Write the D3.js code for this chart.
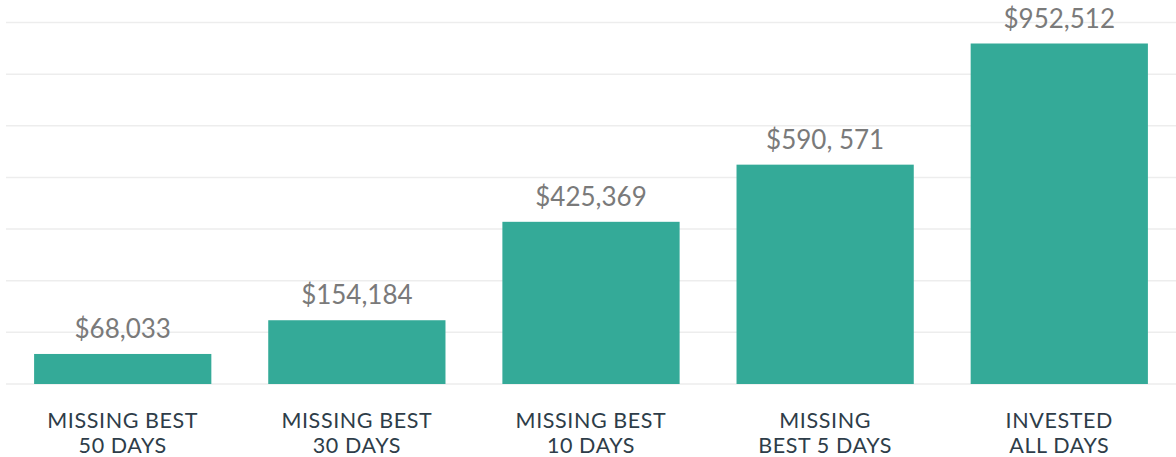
<!DOCTYPE html>
<html>
<head>
<meta charset="utf-8">
<script src="https://cdn.jsdelivr.net/npm/d3@7"></script>
<style>
    body { margin: 0; background: #fff; }
    .value-label { font-family: Lato, "Open Sans", sans-serif; font-size: 26px; fill: #7a7a7a; }
    .cat-label { font-family: Lato, "Open Sans", sans-serif; font-size: 21.5px; letter-spacing: 0.6px; fill: #2e3d49; }
</style>
</head>
<body>
<div id="chart-div"></div>
<script>
const categories = ["50", "30", "10", "5", "all"];
const labelLines = [
    ["MISSING BEST", "50 DAYS"],
    ["MISSING BEST", "30 DAYS"],
    ["MISSING BEST", "10 DAYS"],
    ["MISSING", "BEST 5 DAYS"],
    ["INVESTED", "ALL DAYS"]
];
const values = [68033, 154184, 425369, 590571, 952512];
const valueLabels = ["$68,033", "$154,184", "$425,369", "$590, 571", "$952,512"];
const gridCount = 8;

const width = 1176;
const height = 457;
const baseline = 384;
const teal = '#34aa98';

const svg = d3.select("#chart-div")
    .append("svg")
    .attr("width", width)
    .attr("height", height);

// background grid, evenly spaced
const gridScale = d3.scaleLinear()
    .domain([0, gridCount - 1])
    .range([baseline, 22.5]);

svg.selectAll("line.grid").data(d3.range(gridCount)).enter().append("line")
    .attr("class", "grid")
    .attr("x1", 6)
    .attr("x2", width)
    .attr("y1", d => gridScale(d))
    .attr("y2", d => gridScale(d))
    .style("stroke", "#ededed")
    .style("stroke-width", 1.5);

const xScale = d3.scaleBand()
    .domain(categories)
    .range([6, width])
    .paddingInner(0.243)
    .paddingOuter(0.12);

// bar heights in the original are slightly compressed, a power scale fits them
const yScale = d3.scalePow()
    .exponent(0.92)
    .domain([0, d3.max(values)])
    .range([baseline, 43.5]);

svg.selectAll("rect").data(values).enter().append("rect")
    .attr("x", (d, i) => xScale(categories[i]))
    .attr("width", xScale.bandwidth())
    .attr("y", d => yScale(d))
    .attr("height", d => baseline - yScale(d))
    .style("fill", teal);

svg.selectAll("text.value-label").data(values).enter().append("text")
    .classed("value-label", true)
    .attr("x", (d, i) => xScale(categories[i]) + xScale.bandwidth() / 2)
    .attr("y", d => yScale(d) - 16)
    .attr("text-anchor", "middle")
    .text((d, i) => valueLabels[i]);

const cats = svg.selectAll("text.cat-label").data(labelLines).enter().append("text")
    .classed("cat-label", true)
    .attr("x", (d, i) => xScale(categories[i]) + xScale.bandwidth() / 2)
    .attr("y", 428)
    .attr("text-anchor", "middle");

cats.selectAll("tspan").data(d => d).enter().append("tspan")
    .attr("x", function() { return d3.select(this.parentNode).attr("x"); })
    .attr("dy", (d, i) => i === 0 ? 0 : 25)
    .text(d => d);
</script>
</body>
</html>
